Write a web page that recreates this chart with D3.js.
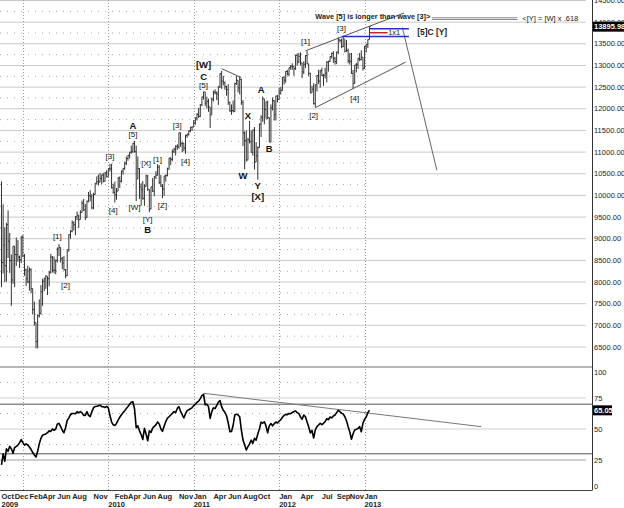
<!DOCTYPE html>
<html><head><meta charset="utf-8">
<script src="https://cdn.jsdelivr.net/npm/d3@7"></script>
<style>body{margin:0;background:#fff}svg{display:block}</style>
</head><body>
<svg id="c" width="624" height="508"></svg>
<script>
// ---------- DATA (weekly bars, first week ending 2008-10-10) ----------
const firstWeek = "2008-10-10";
const highs = [
10322,9794,9265,9370,9654,9131,8636,8829,8830,9026,8969,8610,
9065,9088,8650,8307,8378,8338,8317,7848,7550,7063,7250,7600,7930,8075,8100,8160,8130,8260,8650,8600,8590,8520,8800,8877,8800,8580,8600,8300,8760,9100,9200,9420,9400,9520,9630,9550,9660,9880,9920,9800,9880,10080,10120,10030,10060,10290,10440,10480,10520,10480,10520,10540,
10580,10620,10730,10730,10270,10320,10170,10420,10440,10570,10630,10780,10900,10930,11000,11150,11210,11258,11150,10900,10630,10280,10330,10260,10480,10470,10140,10200,10400,10450,10560,10720,10700,10470,10260,10450,10480,10640,10870,10880,11060,11100,11160,11180,11450,11450,11240,11210,11400,11430,11500,11580,11590,
11740,11800,11900,12020,12110,12280,12391,12390,12280,12230,12040,12260,12420,12450,12400,12520,12820,12876,12760,12630,12530,12570,12160,12100,12190,12600,12753,12660,12750,12690,12200,11480,11500,11330,11720,11500,11520,11580,11230,11130,11660,11850,12284,12230,12170,12190,11800,12100,12260,12200,12300,12320,
12480,12500,12730,12760,12870,12900,12950,13010,13050,12980,13250,13280,13290,13300,13060,13100,13240,13338,13040,12830,12530,12590,12560,12780,12900,12900,12950,12800,12950,13100,13110,13210,13300,13330,13200,13320,13653,13600,13620,13661,13600,13590,13390,13290,13290,12900,13010,13060,13180,13290,13350,13190,
13450,13490,13600,13900];
const lows = [
7882,8197,8001,8007,8556,8209,7449,7960,7882,8375,8469,8323,
8440,8574,8143,7909,7976,7800,7740,7250,6993,6470,6469,7180,7250,7450,7790,7840,7700,7900,8200,8220,8200,8180,8450,8600,8450,8300,8270,8087,8140,8700,9000,9150,9190,9080,9430,9250,9440,9600,9640,9430,9480,9840,9860,9680,9680,10020,10250,10230,10300,10250,10300,10320,
10420,10430,10550,10160,10040,9835,9900,10100,10170,10300,10480,10590,10700,10800,10850,10960,10980,10990,9870,10380,9920,9760,9900,9760,10200,10100,9614,9680,10080,9980,10380,10460,10260,10200,9936,9990,10320,10440,10600,10700,10790,10980,10920,11050,11080,11120,11000,11020,10960,11330,11380,11460,11490,
11580,11630,11730,11790,11810,12060,12210,12060,12010,11930,11555,11860,12170,12330,12200,12090,12480,12460,12540,12440,12300,12090,11930,11862,11920,11930,12550,12380,12330,12090,11140,10604,10780,10810,11200,10990,10920,10600,10770,10362,11100,11350,11700,11640,11760,11760,11231,11230,11960,11730,11730,12150,
12220,12330,12420,12560,12600,12770,12750,12900,12900,12760,12900,13000,13050,13000,12710,12800,12940,13030,12760,12360,12370,12100,12035,12400,12570,12490,12760,12530,12700,12610,12860,13080,13160,13060,13020,13030,13260,13530,13400,13420,13300,13320,13050,13020,12800,12471,12580,12840,12920,13100,13120,12880,
12920,13300,13400,13600];
const closes = [
8451,8852,8378,9325,8943,8497,8046,8829,8635,8630,8579,8515,
9034,8599,8281,8077,8001,8281,7850,7366,7063,6627,7224,7279,7776,8018,8083,8131,8076,8212,8575,8268,8277,8500,8764,8799,8539,8438,8280,8146,8743,9093,9172,9370,9321,9505,9544,9441,9605,9820,9665,9488,9865,9996,9972,9713,10023,10270,10318,10310,10389,10471,10329,10520,
10428,10618,10610,10173,10067,10013,10099,10403,10325,10567,10625,10742,10851,10927,10997,11019,11204,11009,10380,10620,10193,10137,9931,10212,10450,10144,9686,10198,10098,10424,10466,10653,10303,10213,10150,10448,10462,10607,10860,10830,11006,11063,11133,11118,11445,11193,11204,11092,11382,11410,11492,11573,11578,
11675,11787,11871,11824,12092,12273,12391,12130,12170,12044,11858,12221,12377,12380,12342,12506,12811,12638,12596,12512,12441,12151,11952,11961,11934,12582,12657,12480,12681,12143,11445,11270,10818,11285,11241,10992,11509,10771,10913,11103,11644,11808,12231,11983,12153,11796,11231,12019,12184,11866,12294,12218,
12360,12422,12720,12660,12862,12801,12950,12983,12977,12922,13233,13081,13212,13060,12850,13029,13228,13038,12820,12369,12454,12119,12554,12767,12640,12880,12772,12777,12823,13076,13096,13208,13276,13158,13090,13306,13593,13579,13437,13610,13328,13343,13107,13093,12815,12588,13010,13026,13155,13135,13191,12938,
13435,13488,13596,13895.98];
const rsiValues = [
21,30,24,34,32,36,34,30.5,35,36,37,39,41.5,39,37,38,37,35.5,33.5,31,29,27.5,32,38,42.5,45,45.5,46,47,48.5,48,50,49,50,54,54.5,52,49,47,51,57,59,61.5,62.5,62.5,62.3,64,63,64,63,61,61,64,61,60,64,
67,68.2,68.3,68.8,69.2,68,68,67.3,68.3,67,61,55.8,53.4,52.8,54.5,57.2,59.5,61.5,63.2,64.8,66.6,68.2,70,71.5,72,66,51,52.5,48.5,45.5,41.5,50.5,46,40.5,48.5,47.3,50.7,52.1,53.4,55.7,54.1,50.2,48.1,52.2,56,58.7,59.9,61.3,62.6,64,63.2,66.6,68,64.2,61.5,58.9,62.3,
64.8,65.5,66.3,67.3,68.7,70,71.5,72.5,74.5,77,78,69.5,70,68,58.6,64,67,66.5,69,71.5,73,68,65,63.5,60.5,55,47.8,48,53,61.3,62,61.3,59.9,49.2,41.1,37.1,33.1,35.8,38,41,38.5,42.5,41,46,50,55.5,54.7,55.8,52.5,47,52.5,54.4,52.5,54.3,55.6,54.8,56.3,57.5,59.5,
61,61.8,61.6,62.5,62.4,63.3,64.1,64.5,63.2,62.4,59.7,57.8,61.3,59.9,55.6,51.6,46.8,48.9,42.7,49.2,51.9,53.2,54.6,53.5,54.6,55.9,58.3,57.5,59.7,58.9,60.5,61.3,63.2,65.1,64,62.6,62.1,59.9,56.7,51.9,47.6,41.7,46.2,49.2,49.7,50.5,51.9,47.8,54.6,57.8,59.7,63.2,65.05];

const priceTicks = [6500,7000,7500,8000,8500,9000,9500,10000,10500,11000,11500,12000,12500,13000,13500,14000,14500];
const priceMinorTicks = [6750,7250,7750,8250,8750,9250,9750,10250,10750,11250,11750,12250,12750,13250,13750,14250];
const rsiTicks = [0,25,50,75,100];
const rsiMinorTicks = [12.5,37.5,62.5,87.5];
const rsiBands = [30,70];
const yearGrid = ["2009-01-09","2010-01-08","2011-01-07","2012-01-06","2013-01-04"];
const monthLabels = [["2008-10-10","Oct"],["2008-12-05","Dec"],["2009-02-06","Feb"],["2009-04-03","Apr"],["2009-06-05","Jun"],["2009-08-07","Aug"],["2009-11-06","Nov"],["2010-02-05","Feb"],["2010-04-02","Apr"],["2010-06-04","Jun"],["2010-08-06","Aug"],["2010-11-05","Nov"],["2011-01-07","Jan"],["2011-04-01","Apr"],["2011-06-03","Jun"],["2011-08-05","Aug"],["2011-10-07","Oct"],["2012-01-06","Jan"],["2012-04-06","Apr"],["2012-07-06","Jul"],["2012-09-07","Sep"],["2012-11-02","Nov"],["2013-01-04","Jan"]];
const yearLabels = [["2008-10-10","2009"],["2010-01-08","2010"],["2011-01-07","2011"],["2012-01-06","2012"],["2013-01-04","2013"]];

// wave labels: text, date, price, bold
const waveLabels = [
["[1]","2009-06-05",9061,0],["[2]","2009-07-10",7916,0],["[3]","2010-01-15",10905,0],
["A","2010-04-23",11603,1],["[5]","2010-04-23",11405,0],["[4]","2010-01-29",9660,0],
["[W]","2010-04-30",9714,0],["[X]","2010-06-18",10743,0],["[Y]","2010-06-25",9445,0],
["B","2010-06-25",9215,1],["[1]","2010-08-06",10836,0],["[Z]","2010-08-27",9775,0],
["[3]","2010-10-29",11603,0],["[4]","2010-12-03",10782,0],
["[W]","2011-02-18",13018,1],["C","2011-02-18",12748,1],["[5]","2011-02-18",12541,0],
["X","2011-08-26",11850,1],["W","2011-08-05",10451,1],["Y","2011-10-07",10221,1],["[X]","2011-10-07",9967,1],
["A","2011-10-21",12442,1],["B","2011-11-25",11089,1],
["[1]","2012-04-27",13562,0],["[2]","2012-06-01",11834,0],["[3]","2012-09-28",13848,0],["[4]","2012-11-23",12248,0]];

// annotation lines: [date1, price1, date2, price2, colour]
const priceLines = [
["2011-05-06",12926,"2011-07-29",12719,"#555"],
["2012-04-27",13338,"2013-06-21",14212,"#555"],
["2012-06-08",12027,"2013-06-28",13078,"#555"],
["2013-06-14",13878,"2013-11-08",10582,"#666"],
["2012-09-28",13670,"2013-07-12",13670,"#2233cc"],
["2013-01-25",13850,"2013-07-12",13850,"#2233cc"],
["2013-01-25",13756,"2013-04-12",13756,"#cc2222"],
["2013-10-18",14101,"2014-10-17",14101,"#888"],
["2013-10-18",14062,"2014-10-17",14062,"#888"]];
const rsiLines = [["2011-02-18",78.8,"2014-05-16",51.9,"#777"]];
const priceNotes = [
["Wave [5] is longer than wave [3]>","2012-06-08",14131,1,115],
["<[Y] = [W] x .618","2014-11-07",14085,0,56],
["[5]C [Y]","2013-08-16",13763,2,30],
["1x1","2013-05-10",13755,0,12]];

// ---------- DRAW ----------
const parse = d3.utcParse("%Y-%m-%d");
const t0 = parse(firstWeek);
const dates = highs.map((_, i) => d3.utcDay.offset(t0, 7 * i));
const x = d3.scaleUtc().domain([t0, dates[dates.length - 1]]).range([1.5, 369.5]);
const y = d3.scaleLinear().domain([6500, 14500]).range([347, 0.5]);
const yR = d3.scaleLinear().domain([0, 100]).range([491, 367]);
const FONT = "'Liberation Sans', Arial, sans-serif";
const svg = d3.select("#c").style("font-family", FONT);
const AX = 592, GRID_R = 586, DATA_R = 366;

// price grid
const g = svg.append("g");
g.selectAll(".pg").data(priceTicks).join("line")
 .attr("x1", 0).attr("x2", GRID_R).attr("y1", d => y(d)).attr("y2", d => y(d))
 .attr("stroke", "#c9c9c9").attr("stroke-width", 1);
g.selectAll(".pm").data(priceMinorTicks).join("line")
 .attr("x1", 0).attr("x2", DATA_R).attr("y1", d => y(d)).attr("y2", d => y(d))
 .attr("stroke", "#a8a8a8").attr("stroke-dasharray", "1,6");
// rsi grid
g.selectAll(".rg").data(rsiTicks.filter(d => d > 0 && d < 100)).join("line")
 .attr("x1", 0).attr("x2", GRID_R).attr("y1", d => yR(d)).attr("y2", d => yR(d))
 .attr("stroke", "#cfcfcf").attr("stroke-width", d => d === 25 ? 2 : 1);
g.selectAll(".rm").data(rsiMinorTicks).join("line")
 .attr("x1", 0).attr("x2", DATA_R).attr("y1", d => yR(d)).attr("y2", d => yR(d))
 .attr("stroke", "#a8a8a8").attr("stroke-dasharray", "1,6");
g.selectAll(".rb").data(rsiBands).join("line")
 .attr("x1", 0).attr("x2", AX).attr("y1", d => yR(d)).attr("y2", d => yR(d))
 .attr("stroke", "#555").attr("stroke-width", 1);
g.append("line").attr("x1", 0).attr("x2", AX).attr("y1", yR(100)).attr("y2", yR(100))
 .attr("stroke", "#b5b5b5").attr("stroke-width", 2);
// year gridlines
g.selectAll(".yg").data(yearGrid).join("line")
 .attr("x1", d => Math.round(x(parse(d))) + 0.5).attr("x2", d => Math.round(x(parse(d))) + 0.5)
 .attr("y1", 0).attr("y2", 490)
 .attr("stroke", "#9a9a9a").attr("stroke-dasharray", "1,2");

// price bars (HLC)
const bars = svg.append("g").attr("stroke", "#333").attr("stroke-width", 1);
bars.selectAll(".hl").data(dates).join("line")
 .attr("x1", d => x(d)).attr("x2", d => x(d))
 .attr("y1", (d, i) => y(highs[i])).attr("y2", (d, i) => y(lows[i]));
bars.selectAll(".cl").data(dates).join("line")
 .attr("x1", d => x(d)).attr("x2", d => x(d) + 1.6)
 .attr("y1", (d, i) => y(closes[i])).attr("y2", (d, i) => y(closes[i]));

// annotation lines
svg.append("g").selectAll("line").data(priceLines).join("line")
 .attr("x1", d => x(parse(d[0]))).attr("y1", d => y(d[1]))
 .attr("x2", d => x(parse(d[2]))).attr("y2", d => y(d[3]))
 .attr("stroke", d => d[4]).attr("stroke-width", d => (d[4] === "#2233cc" || d[4] === "#cc2222") ? 1.5 : 1);
svg.append("g").selectAll("line").data(rsiLines).join("line")
 .attr("x1", d => x(parse(d[0]))).attr("y1", d => yR(d[1]))
 .attr("x2", d => x(parse(d[2]))).attr("y2", d => yR(d[3]))
 .attr("stroke", d => d[4]).attr("stroke-width", 1);

// RSI line
svg.append("path").datum(rsiValues)
 .attr("d", d3.line().x((d, i) => x(dates[i])).y(d => yR(d)))
 .attr("fill", "none").attr("stroke", "#000").attr("stroke-width", 1.6).attr("stroke-linejoin", "round");

// wave labels
svg.append("g").selectAll("text").data(waveLabels).join("text")
 .attr("x", d => x(parse(d[1]))).attr("y", d => y(d[2]))
 .attr("text-anchor", "middle").attr("dominant-baseline", "central")
 .attr("font-size", d => d[3] ? 9.5 : 8).attr("font-weight", d => d[3] ? "bold" : "normal")
 .attr("fill", "#111").text(d => d[0]);

// notes
svg.append("g").selectAll("text").data(priceNotes).join("text")
 .attr("x", d => x(parse(d[1]))).attr("y", d => y(d[2]))
 .attr("dominant-baseline", "central")
 .attr("text-anchor", d => d[0] === "1x1" ? "middle" : "start")
 .attr("font-size", d => d[3] === 2 ? 8.5 : 7.5)
 .attr("font-weight", d => d[3] ? "bold" : "normal")
 .attr("textLength", d => d[4]).attr("lengthAdjust", "spacingAndGlyphs")
 .attr("fill", "#222").text(d => d[0]);

// axes frame
svg.append("line").attr("x1", AX + 0.5).attr("x2", AX + 0.5).attr("y1", 0).attr("y2", 490).attr("stroke", "#333");
svg.append("line").attr("x1", 0).attr("x2", AX + 0.5).attr("y1", 490.5).attr("y2", 490.5).attr("stroke", "#444");

// right axis labels
const fmt = d3.format(".2f");
svg.append("g").selectAll("text").data(priceTicks).join("text")
 .attr("x", AX + 2).attr("y", d => y(d)).attr("dominant-baseline", "central")
 .attr("font-size", 7.5).attr("fill", "#222").text(d => fmt(d));
svg.append("g").selectAll("text").data(rsiTicks).join("text")
 .attr("x", AX + 2).attr("y", d => Math.max(372, Math.min(486, yR(d)))).attr("dominant-baseline", "central")
 .attr("font-size", 7.5).attr("fill", "#222").text(d => d);

// last value boxes
function valueBox(yy, label, w) {
  svg.append("rect").attr("x", AX + 1).attr("y", yy - 5).attr("width", w).attr("height", 10).attr("fill", "#000");
  svg.append("text").attr("x", AX + 2).attr("y", yy).attr("dominant-baseline", "central")
   .attr("font-size", 7.5).attr("font-weight", "bold").attr("fill", "#fff").text(label);
}
valueBox(y(closes[closes.length - 1]), fmt(closes[closes.length - 1]), 31);
valueBox(yR(rsiValues[rsiValues.length - 1]), fmt(rsiValues[rsiValues.length - 1]), 19);

// x axis labels
svg.append("g").selectAll("text").data(monthLabels).join("text")
 .attr("x", d => x(parse(d[0]))).attr("y", 496).attr("dominant-baseline", "central")
 .attr("font-size", 7.5).attr("font-weight", "bold").attr("fill", "#222").text(d => d[1]);
svg.append("g").selectAll("text").data(yearLabels).join("text")
 .attr("x", d => x(parse(d[0]))).attr("y", 504).attr("dominant-baseline", "central")
 .attr("font-size", 7.5).attr("font-weight", "bold").attr("fill", "#222").text(d => d[1]);
</script>
</body></html>
